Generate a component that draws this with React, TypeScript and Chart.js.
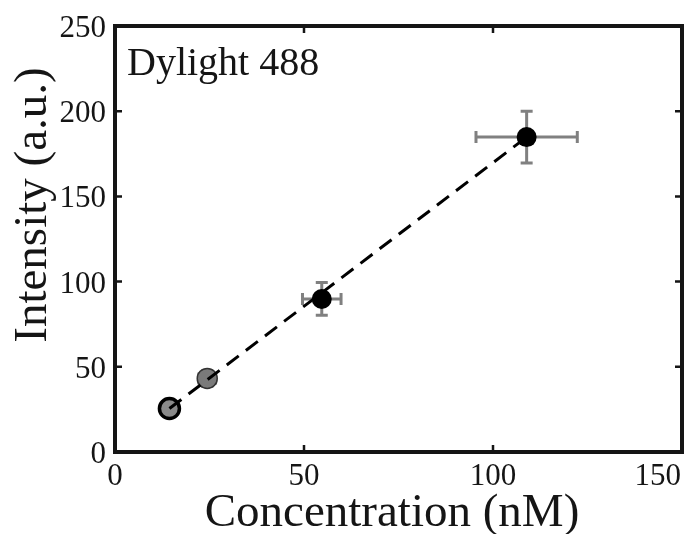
import { useEffect, useRef } from 'react';
import { Chart, registerables } from 'chart.js';

Chart.register(...registerables);

const concentration = [14.4, 24.4, 54.7, 108.9];
const intensity = [25.5, 43.2, 89.8, 184.8];
const concErr = [0.6, 2.2, 5.1, 13.4];
const intErr = [0.8, 4.5, 9.6, 15.2];
const fitX = [14.4, 108.9];
const fitY = [25.5, 184.8];
const xTicks = [0, 50, 100, 150];
const yTicks = [0, 50, 100, 150, 200, 250];
const xTitle = 'Concentration (nM)';
const yTitle = 'Intensity (a.u.)';
const panelLabel = 'Dylight 488';

const FONT = '"Liberation Serif", "Times New Roman", serif';
const INK = '#151515';

const decorPlugin = {
  id: 'decor',
  beforeDatasetsDraw(chart: any) {
    const { ctx, scales } = chart;
    const x = scales.x, y = scales.y;
    ctx.save();
    ctx.strokeStyle = '#808080';
    ctx.lineWidth = 3;
    const cap = 6;
    concentration.forEach((cx, i) => {
      const px = x.getPixelForValue(cx);
      const py = y.getPixelForValue(intensity[i]);
      const x1 = x.getPixelForValue(cx - concErr[i]);
      const x2 = x.getPixelForValue(cx + concErr[i]);
      const y1 = y.getPixelForValue(intensity[i] - intErr[i]);
      const y2 = y.getPixelForValue(intensity[i] + intErr[i]);
      ctx.beginPath();
      ctx.moveTo(x1, py); ctx.lineTo(x2, py);
      ctx.moveTo(x1, py - cap); ctx.lineTo(x1, py + cap);
      ctx.moveTo(x2, py - cap); ctx.lineTo(x2, py + cap);
      ctx.moveTo(px, y1); ctx.lineTo(px, y2);
      ctx.moveTo(px - cap, y1); ctx.lineTo(px + cap, y1);
      ctx.moveTo(px - cap, y2); ctx.lineTo(px + cap, y2);
      ctx.stroke();
    });
    ctx.restore();
  },
  afterDraw(chart: any) {
    const { ctx, chartArea, scales } = chart;
    const x = scales.x, y = scales.y;
    const { left, right, top, bottom } = chartArea;
    ctx.save();
    // inward tick marks
    ctx.strokeStyle = INK;
    ctx.lineWidth = 2.5;
    const tl = 7;
    ctx.beginPath();
    xTicks.forEach((v) => {
      const px = x.getPixelForValue(v);
      ctx.moveTo(px, bottom); ctx.lineTo(px, bottom - tl);
      ctx.moveTo(px, top); ctx.lineTo(px, top + tl);
    });
    yTicks.forEach((v) => {
      const py = y.getPixelForValue(v);
      ctx.moveTo(left, py); ctx.lineTo(left + tl, py);
      ctx.moveTo(right, py); ctx.lineTo(right - tl, py);
    });
    ctx.stroke();
    // frame
    ctx.lineWidth = 4;
    ctx.strokeRect(left, top, right - left, bottom - top);

    // tick labels
    ctx.fillStyle = INK;
    ctx.font = `31px ${FONT}`;
    ctx.textBaseline = 'alphabetic';
    xTicks.forEach((v, i) => {
      const px = x.getPixelForValue(v);
      const text = String(v);
      if (i === xTicks.length - 1) {
        ctx.textAlign = 'right';
        ctx.fillText(text, right - 1, 485);
      } else {
        ctx.textAlign = 'center';
        ctx.fillText(text, px, 485);
      }
    });
    ctx.textAlign = 'right';
    yTicks.forEach((v) => {
      const py = y.getPixelForValue(v);
      ctx.fillText(String(v), left - 9, py + 11);
    });

    // axis titles
    ctx.font = `47px ${FONT}`;
    ctx.textAlign = 'center';
    ctx.fillText(xTitle, 392, 526);
    ctx.save();
    ctx.translate(46, 205);
    ctx.rotate(-Math.PI / 2);
    ctx.textAlign = 'center';
    ctx.fillText(yTitle, 0, 0);
    ctx.restore();

    // panel label
    ctx.font = `40px ${FONT}`;
    ctx.textAlign = 'left';
    ctx.fillText(panelLabel, 127, 75);
    ctx.restore();
  },
};

export default function App() {
  const ref = useRef<HTMLCanvasElement>(null);
  useEffect(() => {
    if (!ref.current) return;
    const chart = new Chart(ref.current, {
      type: 'scatter',
      data: {
        datasets: [
          {
            type: 'line',
            label: 'fit',
            data: fitX.map((v, i) => ({ x: v, y: fitY[i] })),
            borderColor: '#000',
            borderWidth: 3,
            borderDash: [15, 9],
            pointRadius: 0,
            fill: false,
            order: 0,
          } as any,
          {
            label: panelLabel,
            data: concentration.map((v, i) => ({ x: v, y: intensity[i] })),
            pointRadius: 10,
            pointBackgroundColor: ['#8a8a8a', '#7a7a7a', '#000', '#000'],
            pointBorderColor: ['#000', '#333', '#000', '#000'],
            pointBorderWidth: [3.5, 1.5, 0, 0],
            order: 1,
          },
        ],
      },
      options: {
        animation: false,
        responsive: false,
        layout: { autoPadding: false, padding: { left: 115, right: 6, top: 26, bottom: 82 } },
        plugins: { legend: { display: false }, tooltip: { enabled: false } },
        scales: {
          x: { type: 'linear', min: 0, max: 150, display: false },
          y: { type: 'linear', min: 0, max: 250, display: false },
        },
      },
      plugins: [decorPlugin],
    });
    return () => chart.destroy();
  }, []);
  return (
    <div style={{ position: 'absolute', left: 0, top: 0, width: 688, height: 534, background: '#fff' }}>
      <canvas ref={ref} width={688} height={534} style={{ display: 'block' }} />
    </div>
  );
}
